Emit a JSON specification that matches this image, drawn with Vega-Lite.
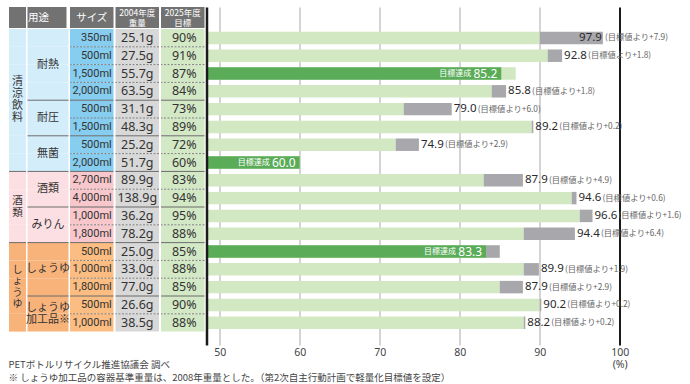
{
 "$schema": "https://vega.github.io/schema/vega-lite/v6.json",
 "padding": {"left": 8, "top": 7, "right": 0, "bottom": 0},
 "background": "white",
 "bounds": "flush",
 "spacing": 1.5,
 "resolve": {"scale": {"color": "independent"}},
 "config": {"view": {"stroke": null}, "font": "Noto Sans CJK JP"},
 "title": {"text": ["PETボトルリサイクル推進協議会 調べ", "※ しょうゆ加工品の容器基準重量は、2008年重量とした。（第2次自主行動計画で軽量化目標値を設定）"], "orient": "bottom", "anchor": "start", "offset": -10, "fontSize": 9.5, "fontWeight": "normal", "font": "Noto Sans CJK JP", "color": "#444", "lineHeight": 13.5},
 "datasets": {
  "rows": [
   {"k": "r1", "grp": "清涼飲料", "sub": "耐熱", "size": "350ml", "w2004": "25.1g", "goal": 90, "actual": 97.9, "st": "over", "note": "(目標値より+7.9)"},
   {"k": "r2", "grp": "清涼飲料", "sub": "耐熱", "size": "500ml", "w2004": "27.5g", "goal": 91, "actual": 92.8, "st": "over", "note": "(目標値より+1.8)"},
   {"k": "r3", "grp": "清涼飲料", "sub": "耐熱", "size": "1,500ml", "w2004": "55.7g", "goal": 87, "actual": 85.2, "st": "met", "note": ""},
   {"k": "r4", "grp": "清涼飲料", "sub": "耐熱", "size": "2,000ml", "w2004": "63.5g", "goal": 84, "actual": 85.8, "st": "over", "note": "(目標値より+1.8)"},
   {"k": "r5", "grp": "清涼飲料", "sub": "耐圧", "size": "500ml", "w2004": "31.1g", "goal": 73, "actual": 79.0, "st": "over", "note": "(目標値より+6.0)"},
   {"k": "r6", "grp": "清涼飲料", "sub": "耐圧", "size": "1,500ml", "w2004": "48.3g", "goal": 89, "actual": 89.2, "st": "over", "note": "(目標値より+0.2)"},
   {"k": "r7", "grp": "清涼飲料", "sub": "無菌", "size": "500ml", "w2004": "25.2g", "goal": 72, "actual": 74.9, "st": "over", "note": "(目標値より+2.9)"},
   {"k": "r8", "grp": "清涼飲料", "sub": "無菌", "size": "2,000ml", "w2004": "51.7g", "goal": 60, "actual": 60.0, "st": "met", "note": ""},
   {"k": "r9", "grp": "酒類", "sub": "酒類", "size": "2,700ml", "w2004": "89.9g", "goal": 83, "actual": 87.9, "st": "over", "note": "(目標値より+4.9)"},
   {"k": "r10", "grp": "酒類", "sub": "酒類", "size": "4,000ml", "w2004": "138.9g", "goal": 94, "actual": 94.6, "st": "over", "note": "(目標値より+0.6)"},
   {"k": "r11", "grp": "酒類", "sub": "みりん", "size": "1,000ml", "w2004": "36.2g", "goal": 95, "actual": 96.6, "st": "over", "note": "(目標値より+1.6)"},
   {"k": "r12", "grp": "酒類", "sub": "みりん", "size": "1,800ml", "w2004": "78.2g", "goal": 88, "actual": 94.4, "st": "over", "note": "(目標値より+6.4)"},
   {"k": "r13", "grp": "しょうゆ", "sub": "しょうゆ", "size": "500ml", "w2004": "25.0g", "goal": 85, "actual": 83.3, "st": "metGray", "note": ""},
   {"k": "r14", "grp": "しょうゆ", "sub": "しょうゆ", "size": "1,000ml", "w2004": "33.0g", "goal": 88, "actual": 89.9, "st": "over", "note": "(目標値より+1.9)"},
   {"k": "r15", "grp": "しょうゆ", "sub": "しょうゆ", "size": "1,800ml", "w2004": "77.0g", "goal": 85, "actual": 87.9, "st": "over", "note": "(目標値より+2.9)"},
   {"k": "r16", "grp": "しょうゆ", "sub": "しょうゆ加工品※", "size": "500ml", "w2004": "26.6g", "goal": 90, "actual": 90.2, "st": "over", "note": "(目標値より+0.2)"},
   {"k": "r17", "grp": "しょうゆ", "sub": "しょうゆ加工品※", "size": "1,000ml", "w2004": "38.5g", "goal": 88, "actual": 88.2, "st": "over", "note": "(目標値より+0.2)"}
  ],
  "groups": [
   {"label": "清\n涼\n飲\n料", "mid": "r4", "n": 8},
   {"label": "酒\n類", "mid": "r10", "n": 4},
   {"label": "し\nょ\nう\nゆ", "mid": "r15", "n": 5}
  ],
  "subs": [
   {"label": "耐熱", "mid": "r2", "n": 4},
   {"label": "耐圧", "mid": "r5", "n": 2},
   {"label": "無菌", "mid": "r7", "n": 2},
   {"label": "酒類", "mid": "r9", "n": 2},
   {"label": "みりん", "mid": "r11", "n": 2},
   {"label": "しょうゆ", "mid": "r14", "n": 3},
   {"label": "しょうゆ\n加工品※", "mid": "r16", "n": 2}
  ]
 },
 "hconcat": [
  {
   "width": 17, "height": 338,
   "layer": [
    {"data": {"name": "rows"}, "mark": {"type": "rect"},
     "encoding": {"y": {"field": "k", "type": "nominal", "scale": {"domain": ["H","r1","r2","r3","r4","r5","r6","r7","r8","r9","r10","r11","r12","r13","r14","r15","r16","r17"], "paddingInner": 0, "paddingOuter": 0.494, "align": 0.239}, "axis": null},
      "color": {"field": "grp", "type": "nominal", "scale": {"domain": ["清涼飲料","酒類","しょうゆ"], "range": ["#d3edfb","#fcdfe2","#f8b37b"]}, "legend": null}}},
    {"data": {"name": "rows"}, "transform": [{"filter": "indexof(['r9','r13'], datum.k) >= 0"}], "mark": {"type": "rule", "color": "#6b6b6b", "strokeWidth": 1},
     "encoding": {"y": {"field": "k", "type": "nominal", "bandPosition": 0}}},
    {"data": {"values": [{}]}, "mark": {"type": "rect", "color": "#727272", "yOffset": -4.2, "y2Offset": -1, "x2Offset": 2},
     "encoding": {"y": {"datum": "H", "type": "nominal", "bandPosition": 0}, "y2": {"datum": "H", "bandPosition": 1}}},
    {"data": {"name": "groups"}, "transform": [{"filter": "datum.n === 8"}], "mark": {"type": "text", "lineBreak": "\n", "fontSize": 11, "lineHeight": 12, "color": "#333", "baseline": "middle", "dy": -18},
     "encoding": {"y": {"field": "mid", "type": "nominal", "bandPosition": 1}, "text": {"field": "label"}}},
    {"data": {"name": "groups"}, "transform": [{"filter": "datum.n === 4"}], "mark": {"type": "text", "lineBreak": "\n", "fontSize": 10.5, "lineHeight": 11.5, "color": "#333", "baseline": "middle", "dy": -5.75},
     "encoding": {"y": {"field": "mid", "type": "nominal", "bandPosition": 1}, "text": {"field": "label"}}},
    {"data": {"name": "groups"}, "transform": [{"filter": "datum.n === 5"}], "mark": {"type": "text", "lineBreak": "\n", "fontSize": 10, "lineHeight": 11.5, "color": "#333", "baseline": "middle", "dy": -17.25},
     "encoding": {"y": {"field": "mid", "type": "nominal", "bandPosition": 0.5}, "text": {"field": "label"}}}
   ]
  },
  {
   "width": 41, "height": 338,
   "layer": [
    {"data": {"name": "rows"}, "mark": {"type": "rect"},
     "encoding": {"y": {"field": "k", "type": "nominal", "scale": {"domain": ["H","r1","r2","r3","r4","r5","r6","r7","r8","r9","r10","r11","r12","r13","r14","r15","r16","r17"], "paddingInner": 0, "paddingOuter": 0.494, "align": 0.239}, "axis": null},
      "color": {"field": "grp", "type": "nominal", "scale": {"domain": ["清涼飲料","酒類","しょうゆ"], "range": ["#d3edfb","#fcdfe2","#f8b37b"]}, "legend": null}}},
    {"data": {"name": "rows"}, "transform": [{"filter": "indexof(['r5','r7','r9','r11','r13','r16'], datum.k) >= 0"}], "mark": {"type": "rule", "color": "#6b6b6b", "strokeWidth": 1},
     "encoding": {"y": {"field": "k", "type": "nominal", "bandPosition": 0}}},
    {"data": {"values": [{}]}, "mark": {"type": "rect", "color": "#727272", "yOffset": -4.2, "y2Offset": -1, "xOffset": -2},
     "encoding": {"y": {"datum": "H", "type": "nominal", "bandPosition": 0}, "y2": {"datum": "H", "bandPosition": 1}}},
    {"data": {"values": [{}]}, "mark": {"type": "text", "fontSize": 10.5, "color": "white", "baseline": "middle", "dx": -9.5, "dy": -2.5},
     "encoding": {"y": {"datum": "H", "type": "nominal"}, "text": {"value": "用途"}}},
    {"data": {"name": "subs"}, "transform": [{"filter": "datum.n !== 3 && datum.mid !== 'r16'"}], "mark": {"type": "text", "fontSize": 11, "color": "#333", "baseline": "middle"},
     "encoding": {"y": {"field": "mid", "type": "nominal", "bandPosition": 1}, "text": {"field": "label"}}},
    {"data": {"name": "subs"}, "transform": [{"filter": "datum.mid === 'r16'"}], "mark": {"type": "text", "lineBreak": "\n", "fontSize": 11, "lineHeight": 12.5, "color": "#333", "baseline": "middle", "dy": -6},
     "encoding": {"y": {"field": "mid", "type": "nominal", "bandPosition": 1}, "text": {"field": "label"}}},
    {"data": {"name": "subs"}, "transform": [{"filter": "datum.n === 3"}], "mark": {"type": "text", "fontSize": 11, "color": "#333", "baseline": "middle"},
     "encoding": {"y": {"field": "mid", "type": "nominal", "bandPosition": 0.5}, "text": {"field": "label"}}}
   ]
  },
  {
   "width": 43.5, "height": 338,
   "layer": [
    {"data": {"name": "rows"}, "mark": {"type": "rect"},
     "encoding": {"y": {"field": "k", "type": "nominal", "scale": {"domain": ["H","r1","r2","r3","r4","r5","r6","r7","r8","r9","r10","r11","r12","r13","r14","r15","r16","r17"], "paddingInner": 0, "paddingOuter": 0.494, "align": 0.239}, "axis": null},
      "color": {"field": "grp", "type": "nominal", "scale": {"domain": ["清涼飲料","酒類","しょうゆ"], "range": ["#86cdf0","#f8c7cc","#fbbd81"]}, "legend": null}}},
    {"data": {"name": "rows"}, "transform": [{"filter": "indexof(['r5','r7','r9','r11','r13','r16'], datum.k) >= 0"}], "mark": {"type": "rule", "color": "#6b6b6b", "strokeWidth": 1},
     "encoding": {"y": {"field": "k", "type": "nominal", "bandPosition": 0}}},
    {"data": {"name": "rows"}, "transform": [{"filter": "indexof(['r2','r3','r4','r6','r8','r10','r12','r14','r15','r17'], datum.k) >= 0"}], "mark": {"type": "rule", "color": "#808080", "strokeWidth": 1, "strokeDash": [2, 1.5]},
     "encoding": {"y": {"field": "k", "type": "nominal", "bandPosition": 0}}},
    {"data": {"values": [{}]}, "mark": {"type": "rect", "color": "#727272", "yOffset": -4.2, "y2Offset": -1},
     "encoding": {"y": {"datum": "H", "type": "nominal", "bandPosition": 0}, "y2": {"datum": "H", "bandPosition": 1}}},
    {"data": {"values": [{}]}, "mark": {"type": "text", "fontSize": 10.5, "color": "white", "baseline": "middle", "dy": -2.5},
     "encoding": {"y": {"datum": "H", "type": "nominal"}, "text": {"value": "サイズ"}}},
    {"data": {"name": "rows"}, "mark": {"type": "text", "fontSize": 11, "font": "Liberation Sans Narrow, Roboto", "color": "#333", "align": "right", "baseline": "middle", "dx": 20},
     "encoding": {"y": {"field": "k", "type": "nominal"}, "text": {"field": "size"}}}
   ]
  },
  {
   "width": 43.5, "height": 338,
   "layer": [
    {"data": {"name": "rows"}, "mark": {"type": "rect", "color": "#d8d8d8"},
     "encoding": {"y": {"field": "k", "type": "nominal", "scale": {"domain": ["H","r1","r2","r3","r4","r5","r6","r7","r8","r9","r10","r11","r12","r13","r14","r15","r16","r17"], "paddingInner": 0, "paddingOuter": 0.494, "align": 0.239}, "axis": null}}},
    {"data": {"name": "rows"}, "transform": [{"filter": "indexof(['r5','r7','r9','r11','r13','r16'], datum.k) >= 0"}], "mark": {"type": "rule", "color": "#6b6b6b", "strokeWidth": 1},
     "encoding": {"y": {"field": "k", "type": "nominal", "bandPosition": 0}}},
    {"data": {"name": "rows"}, "transform": [{"filter": "indexof(['r2','r3','r4','r6','r8','r10','r12','r14','r15','r17'], datum.k) >= 0"}], "mark": {"type": "rule", "color": "#808080", "strokeWidth": 1, "strokeDash": [2, 1.5]},
     "encoding": {"y": {"field": "k", "type": "nominal", "bandPosition": 0}}},
    {"data": {"values": [{}]}, "mark": {"type": "rect", "color": "#727272", "yOffset": -4.2, "y2Offset": -1},
     "encoding": {"y": {"datum": "H", "type": "nominal", "bandPosition": 0}, "y2": {"datum": "H", "bandPosition": 1}}},
    {"data": {"values": [{}]}, "mark": {"type": "text", "fontSize": 8.5, "lineHeight": 10, "lineBreak": "\n", "color": "white", "baseline": "middle", "dy": -7.5},
     "encoding": {"y": {"datum": "H", "type": "nominal"}, "text": {"value": "2004年度\n重量"}}},
    {"data": {"name": "rows"}, "mark": {"type": "text", "fontSize": 12.5, "font": "Noto Sans", "color": "#333", "baseline": "middle"},
     "encoding": {"y": {"field": "k", "type": "nominal"}, "text": {"field": "w2004"}}}
   ]
  },
  {
   "width": 43.5, "height": 338,
   "layer": [
    {"data": {"name": "rows"}, "mark": {"type": "rect", "color": "#d3e9c6"},
     "encoding": {"y": {"field": "k", "type": "nominal", "scale": {"domain": ["H","r1","r2","r3","r4","r5","r6","r7","r8","r9","r10","r11","r12","r13","r14","r15","r16","r17"], "paddingInner": 0, "paddingOuter": 0.494, "align": 0.239}, "axis": null}}},
    {"data": {"name": "rows"}, "transform": [{"filter": "indexof(['r5','r7','r9','r11','r13','r16'], datum.k) >= 0"}], "mark": {"type": "rule", "color": "#6b6b6b", "strokeWidth": 1},
     "encoding": {"y": {"field": "k", "type": "nominal", "bandPosition": 0}}},
    {"data": {"name": "rows"}, "transform": [{"filter": "indexof(['r2','r3','r4','r6','r8','r10','r12','r14','r15','r17'], datum.k) >= 0"}], "mark": {"type": "rule", "color": "#808080", "strokeWidth": 1, "strokeDash": [2, 1.5]},
     "encoding": {"y": {"field": "k", "type": "nominal", "bandPosition": 0}}},
    {"data": {"values": [{}]}, "mark": {"type": "rect", "color": "#727272", "yOffset": -4.2, "y2Offset": -1},
     "encoding": {"y": {"datum": "H", "type": "nominal", "bandPosition": 0}, "y2": {"datum": "H", "bandPosition": 1}}},
    {"data": {"values": [{}]}, "mark": {"type": "text", "fontSize": 8.5, "lineHeight": 10, "lineBreak": "\n", "color": "white", "baseline": "middle", "dy": -7.5},
     "encoding": {"y": {"datum": "H", "type": "nominal"}, "text": {"value": "2025年度\n目標"}}},
    {"data": {"name": "rows"}, "transform": [{"calculate": "datum.goal + '%'", "as": "goalLabel"}], "mark": {"type": "text", "fontSize": 12.5, "font": "Noto Sans", "color": "#333", "baseline": "middle", "dx": 1.5},
     "encoding": {"y": {"field": "k", "type": "nominal"}, "text": {"field": "goalLabel"}}}
   ]
  },
  {
   "width": 480, "height": 338,
   "data": {"name": "rows"},
   "encoding": {"y": {"field": "k", "type": "nominal", "scale": {"domain": ["H","r1","r2","r3","r4","r5","r6","r7","r8","r9","r10","r11","r12","r13","r14","r15","r16","r17"], "paddingInner": 0, "paddingOuter": 0.494, "align": 0.239}, "axis": {"labels": false, "ticks": false, "grid": false, "domain": true, "domainColor": "#1a1a1a", "domainWidth": 2.5, "title": null, "zindex": 1}}},
   "layer": [
    {"mark": {"type": "bar", "orient": "horizontal", "color": "#d1e8c2", "height": {"band": 0.7}},
     "encoding": {"x": {"field": "goal", "type": "quantitative", "scale": {"domain": [48.35, 108.35], "nice": false, "zero": false},
       "axis": {"values": [50, 60, 70, 80, 90, 100], "grid": true, "gridColor": {"condition": {"test": "datum.value === 100", "value": "#1a1a1a"}, "value": "#a9a9a9"}, "gridWidth": {"condition": {"test": "datum.value === 100", "value": 2}, "value": 1}, "ticks": false, "domain": false, "labelPadding": 2, "labelFontSize": 10.5, "labelFont": "Noto Sans", "labelColor": "#444", "labelLineHeight": 12, "labelFlush": false, "labelExpr": "datum.value === 100 ? ['100', '(%)'] : datum.label", "title": null}},
      "x2": {"datum": 48.35}}},
    {"transform": [{"filter": "datum.st !== 'met'"}], "mark": {"type": "bar", "orient": "horizontal", "color": "#a8a8ac", "height": {"band": 0.7}},
     "encoding": {"x": {"field": "goal", "type": "quantitative"}, "x2": {"field": "actual"}}},
    {"transform": [{"filter": "datum.st !== 'over'"}], "mark": {"type": "bar", "orient": "horizontal", "color": "#5aac58", "height": {"band": 0.7}},
     "encoding": {"x": {"field": "actual", "type": "quantitative"}, "x2": {"datum": 48.35}}},
    {"transform": [{"filter": "datum.st === 'over' && datum.actual < 97"}], "mark": {"type": "text", "align": "left", "baseline": "middle", "dx": 2, "fontSize": 11.5, "font": "Noto Sans", "color": "#2a2a2a"},
     "encoding": {"x": {"field": "actual", "type": "quantitative"}, "text": {"field": "actual", "type": "quantitative", "format": ".1f"}}},
    {"transform": [{"filter": "datum.st === 'over' && datum.actual < 97"}], "mark": {"type": "text", "align": "left", "baseline": "middle", "dx": 26, "dy": 0.5, "fontSize": 8.3, "color": "#666"},
     "encoding": {"x": {"field": "actual", "type": "quantitative"}, "text": {"field": "note"}}},
    {"transform": [{"filter": "datum.st === 'over' && datum.actual >= 97"}], "mark": {"type": "text", "align": "right", "baseline": "middle", "dx": -1, "fontSize": 11.5, "font": "Noto Sans", "color": "#2a2a2a"},
     "encoding": {"x": {"field": "actual", "type": "quantitative"}, "text": {"field": "actual", "type": "quantitative", "format": ".1f"}}},
    {"transform": [{"filter": "datum.st === 'over' && datum.actual >= 97"}], "mark": {"type": "text", "align": "left", "baseline": "middle", "dx": 2, "dy": 0.5, "fontSize": 8.3, "color": "#666"},
     "encoding": {"x": {"field": "actual", "type": "quantitative"}, "text": {"field": "note"}}},
    {"transform": [{"filter": "datum.st !== 'over'"}], "mark": {"type": "text", "align": "right", "baseline": "middle", "dx": -4, "fontSize": 12, "font": "Noto Sans", "color": "white"},
     "encoding": {"x": {"field": "actual", "type": "quantitative"}, "text": {"field": "actual", "type": "quantitative", "format": ".1f"}}},
    {"transform": [{"filter": "datum.st !== 'over'"}], "mark": {"type": "text", "align": "right", "baseline": "middle", "dx": -30, "dy": 0.5, "fontSize": 8, "color": "white"},
     "encoding": {"x": {"field": "actual", "type": "quantitative"}, "text": {"value": "目標達成"}}}
   ]
  }
 ]
}
